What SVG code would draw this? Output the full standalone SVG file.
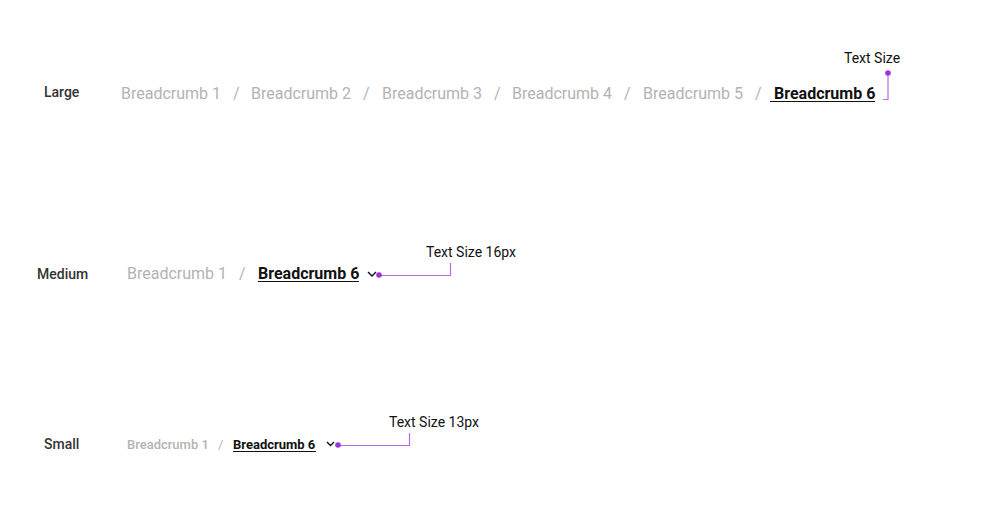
<svg xmlns="http://www.w3.org/2000/svg" width="982" height="529" viewBox="0 0 982 529">
<style>
.lbl{font-family:Roboto,"Liberation Sans",sans-serif;font-size:14px;font-weight:500;fill:#333}
.crumb{font-family:Roboto,"Liberation Sans",sans-serif;font-size:16px;fill:#b3b3b3}
.sep{font-family:Roboto,"Liberation Sans",sans-serif;font-size:16px;fill:#b3b3b3}
.cur{font-family:Roboto,"Liberation Sans",sans-serif;font-size:16px;font-weight:700;fill:#111}
.s{font-size:13px}
.sm{font-size:13px;font-weight:500}
.ul{stroke:#111;stroke-width:1.2}
.chev{fill:none;stroke:#111;stroke-width:1.4}
.note{font-family:Roboto,"Liberation Sans",sans-serif;font-size:14px;fill:#111}
.lead{fill:none;stroke:#b56ee0;stroke-width:1.2}
.dot{fill:#9b35d8}
</style>
<rect width="982" height="529" fill="#fff"/>
<g id="large">
<text class="lbl" x="44" y="97">Large</text>
<text class="crumb" x="121" y="99">Breadcrumb 1</text>
<text class="sep" x="233" y="99">/</text>
<text class="crumb" x="251" y="99">Breadcrumb 2</text>
<text class="sep" x="363" y="99">/</text>
<text class="crumb" x="382" y="99">Breadcrumb 3</text>
<text class="sep" x="494" y="99">/</text>
<text class="crumb" x="512" y="99">Breadcrumb 4</text>
<text class="sep" x="624" y="99">/</text>
<text class="crumb" x="643" y="99">Breadcrumb 5</text>
<text class="sep" x="755" y="99">/</text>
<text class="cur" x="774" y="99">Breadcrumb 6</text>
<line class="ul" x1="770" y1="101.5" x2="875" y2="101.5"/>
</g>
<g id="medium">
<text class="lbl" x="37" y="279">Medium</text>
<text class="crumb" x="127" y="279">Breadcrumb 1</text>
<text class="sep" x="239" y="279">/</text>
<text class="cur" x="258" y="279">Breadcrumb 6</text>
<line class="ul" x1="258" y1="281.5" x2="359" y2="281.5"/>
<polyline class="chev" points="368,272 372,276 376,272"/>
</g>
<g id="small">
<text class="lbl" x="44" y="449">Small</text>
<text class="crumb sm" x="127" y="449">Breadcrumb 1</text>
<text class="sep s" x="218" y="449">/</text>
<text class="cur s" x="233" y="449">Breadcrumb 6</text>
<line class="ul" x1="233" y1="451.5" x2="316" y2="451.5"/>
<polyline class="chev" points="327,442 330.5,445.5 334,442"/>
</g>
<g id="callout-large">
<text class="note" x="844" y="63">Text Size</text>
</g>
<g id="callout-medium">
<text class="note" x="426" y="257">Text Size 16px</text>
</g>
<g id="callout-small">
<text class="note" x="389" y="427">Text Size 13px</text>
</g>
<g id="connectors">
<polyline class="lead" points="888,73 888,99.5 883,99.5"/>
<circle class="dot" cx="888" cy="73" r="2.8"/>
<polyline class="lead" points="379,275.5 450.5,275.5 450.5,263"/>
<circle class="dot" cx="379" cy="275" r="2.8"/>
<polyline class="lead" points="338,445.5 409.5,445.5 409.5,433"/>
<circle class="dot" cx="338" cy="445" r="2.8"/>
</g>
</svg>
